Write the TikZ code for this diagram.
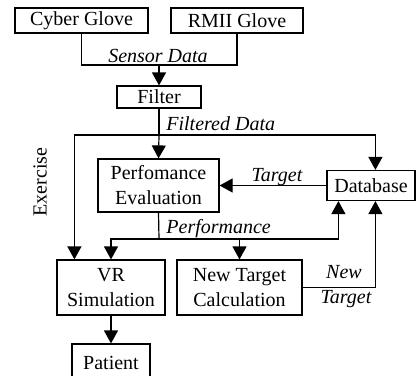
\documentclass[tikz,border=0pt]{standalone}
\usepackage{fontspec}
\setmainfont{Liberation Serif}
\usetikzlibrary{arrows.meta}
\tikzset{
  block/.style={draw, fill=white, align=center, inner sep=0pt, line width=0.6pt},
  flow/.style={line width=0.6pt},
  lbl/.style={font=\itshape, inner sep=0pt}
}
\begin{document}
\begin{tikzpicture}[x=0.5pt, y=-0.5pt, >={Triangle[length=6.5pt,width=7pt]},
    font=\fontsize{10}{12.5}\selectfont]
    \useasboundingbox (0,0) rectangle (417,375);
    \clip (0,0) rectangle (417,375);
    % blocks
    \node[block, minimum width=66.5pt, minimum height=12.5pt] (cyber) at (81.5,20.5) {Cyber Glove};
    \node[block, minimum width=66pt, minimum height=12.5pt] (rmii) at (237,20.5) {RMII Glove};
    \node[block, minimum width=42pt, minimum height=11pt] (filter) at (159,97) {Filter};
    \node[block, minimum width=60.5pt, minimum height=26.5pt] (perf) at (158.5,185.5) {Perfomance\\Evaluation};
    \node[block, minimum width=44pt, minimum height=15pt] (db) at (371,185.5) {Database};
    \node[block, minimum width=54pt, minimum height=27.5pt] (vr) at (111,287.5) {VR\\Simulation};
    \node[block, minimum width=62.5pt, minimum height=27.5pt] (newtarget) at (239.5,287.5) {New Target\\Calculation};
    \node[block, minimum width=39pt, minimum height=19pt] (patient) at (111,363) {Patient};
    % junctions
    \coordinate (sensor) at (159,65);
    \coordinate (filtered) at (159,135);
    \coordinate (perfout) at (159,239);
    % sensor data
    \draw[flow] (cyber.south) |- (sensor) -| (rmii.south);
    \draw[flow,->] (sensor) -- (filter.north);
    \node[lbl] (sensorlbl) at (158,56) {Sensor Data};
    % filtered data
    \draw[flow] (filter.south) -- (filtered);
    \draw[flow,->] (filtered) -- (perf.north);
    \draw[flow,->] (filtered) -| ([xshift=24.5pt]db.north west);
    \draw[flow,->] (filtered) -| ([xshift=9pt]vr.north west);
    \node[lbl, anchor=west] (filtlbl) at (166,124) {Filtered Data};
    \node[rotate=90, inner sep=0pt] (exercise) at (40,182) {Exercise};
    % target
    \draw[flow,->] (db.west) -- (perf.east);
    \node[lbl] (targetlbl) at (277,177) {Target};
    % performance
    \draw[flow] (perf.south) -- (perfout);
    \draw[flow,->] (perfout) -| ([xshift=6pt]db.south west);
    \draw[flow,->] (perfout) -| (vr.north);
    \draw[flow,->] (perfout) -| (newtarget.north);
    \node[lbl, anchor=west] (perflbl) at (166,229) {Performance};
    % new target
    \draw[flow,->] (newtarget.east) -| ([xshift=24.5pt]db.south west);
    \node[lbl] (newlbl) at (344,272) {New};
    \node[lbl] (newtlbl) at (346,299) {Target};
    % to patient
    \draw[flow,->] (vr.south) -- (patient.north);
\end{tikzpicture}
\end{document}
